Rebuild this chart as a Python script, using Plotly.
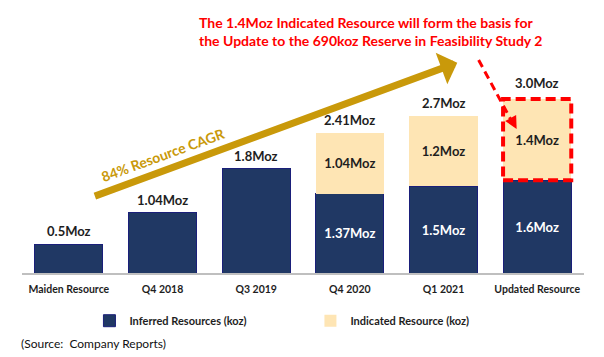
import plotly.graph_objects as go

categories = ["Maiden Resource", "Q4 2018", "Q3 2019", "Q4 2020", "Q1 2021", "Updated Resource"]
inferred = [0.5, 1.04, 1.8, 1.37, 1.5, 1.6]
indicated = [0.0, 0.0, 0.0, 1.04, 1.2, 1.4]
total_labels = ["0.5Moz", "1.04Moz", "1.8Moz", "2.41Moz", "2.7Moz", "3.0Moz"]
inferred_labels = ["", "", "", "1.37Moz", "1.5Moz", "1.6Moz"]
indicated_labels = ["", "", "", "1.04Moz", "1.2Moz", "1.4Moz"]

NAVY = "#203864"
BEIGE = "#FEE5B4"
GOLD = "#C9990A"
RED = "#FF0000"
DARK = "#1E1E1E"
FONT = "Lato"

fig = go.Figure()
fig.add_trace(go.Bar(
    x=categories, y=inferred, name="Inferred Resources (koz)",
    marker=dict(color=NAVY, line=dict(color="#1A1F7A", width=1)),
    text=inferred_labels, textposition="inside", insidetextanchor="middle",
    textfont=dict(family=FONT, size=13, color="white", weight="bold"),
    constraintext="none", cliponaxis=False,
))
fig.add_trace(go.Bar(
    x=categories, y=indicated, name="Indicated Resource (koz)",
    marker=dict(color=BEIGE, line=dict(width=0)),
    text=indicated_labels, textposition="inside", insidetextanchor="middle",
    textfont=dict(family=FONT, size=13, color=DARK, weight="bold"),
    constraintext="none", cliponaxis=False,
))

annotations = []
totals = [a + b for a, b in zip(inferred, indicated)]
for i, (cat, tot, lab) in enumerate(zip(categories, totals, total_labels)):
    annotations.append(dict(
        x=cat, y=tot, xref="x", yref="y", text=lab, showarrow=False,
        yanchor="bottom", yshift=(6 if i == len(categories) - 1 else 3),
        font=dict(family=FONT, size=13, color=DARK, weight="bold"),
    ))

# Growth arrow
annotations.append(dict(
    x=4.147, y=3.626, xref="x", yref="y", ax=0.262, ay=1.316, axref="x", ayref="y",
    showarrow=True, arrowhead=1, arrowsize=0.8, arrowwidth=7, arrowcolor=GOLD,
    text="", standoff=0,
))
annotations.append(dict(
    x=1.015, y=2.04, xref="x", yref="y", text="84% Resource CAGR", showarrow=False,
    textangle=-20, font=dict(family=FONT, size=14, color=GOLD, weight="bold"),
))
# Red headline
annotations.append(dict(
    x=0.312, y=1.042, xref="paper", yref="paper", xanchor="left", yanchor="middle",
    align="left", showarrow=False,
    text="The 1.4Moz Indicated Resource will form the basis for<br>the Update to the 690koz Reserve in Feasibility Study 2",
    font=dict(family=FONT, size=14, color=RED, weight="bold"),
))
# Red arrowhead at end of dashed pointer
annotations.append(dict(
    x=4.781, y=2.483, xref="x", yref="y", ax=-6, ay=-11, showarrow=True,
    arrowhead=2, arrowsize=1, arrowwidth=2.5, arrowcolor=RED, text="", standoff=0,
))
# Source
annotations.append(dict(
    x=-0.006, y=-0.306, xref="paper", yref="paper", xanchor="left", yanchor="middle",
    showarrow=False, text="(Source:  Company Reports)",
    font=dict(family=FONT, size=12, color="#111111"),
))

shapes = [
    dict(type="line", xref="x", yref="y", x0=4.375, y0=3.672, x1=4.76, y1=2.52,
         line=dict(color=RED, width=3, dash="8px,5px")),
    dict(type="rect", xref="x", yref="y", x0=5 - 0.364, x1=5 + 0.364,
         y0=inferred[5], y1=inferred[5] + indicated[5],
         line=dict(color=RED, width=4, dash="10px,5px")),
]

fig.update_layout(
    width=604, height=357,
    margin=dict(l=21.7, r=20.4, t=41, b=84),
    paper_bgcolor="white", plot_bgcolor="white",
    barmode="stack", bargap=0.272,
    font=dict(family=FONT, color=DARK),
    xaxis=dict(showline=True, linecolor="#BFBFBF", linewidth=2, ticks="",
               ticklabelstandoff=5,
               tickfont=dict(family=FONT, size=10.5, color=DARK, weight="bold"),
               showgrid=False, zeroline=False),
    yaxis=dict(range=[0, 4.0], visible=False, showgrid=False, zeroline=False),
    showlegend=True,
    legend=dict(orientation="h", x=0.12, xanchor="left", y=-0.2056, yanchor="middle",
                font=dict(family=FONT, size=11, color=DARK, weight="bold"),
                itemwidth=30, entrywidth=176, entrywidthmode="pixels",
                traceorder="normal", bgcolor="rgba(0,0,0,0)"),
    annotations=annotations, shapes=shapes,
)

fig.write_html(
    "out.html",
    config={"displayModeBar": False},
    post_script="document.body.style.margin='0';document.body.style.padding='0';document.body.style.overflow='hidden';",
)
